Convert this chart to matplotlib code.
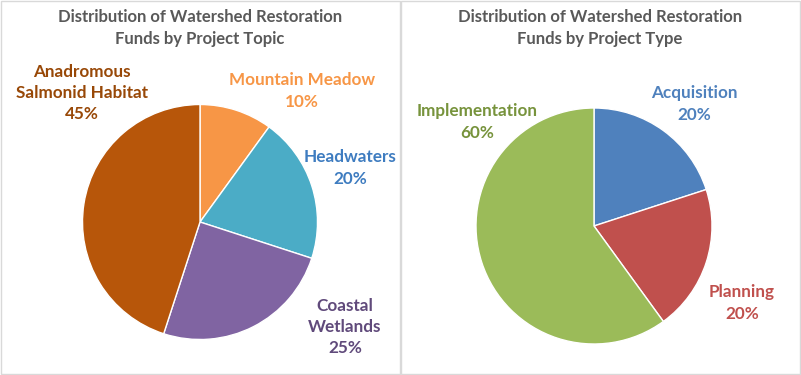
import matplotlib.pyplot as plt
from matplotlib.patches import Rectangle

# data
topic_names = ["Mountain Meadow", "Headwaters", "Coastal\nWetlands", "Anadromous\nSalmonid Habitat"]
topic_pct = [10, 20, 25, 45]
topic_colors = ["#F79646", "#4BACC6", "#8064A2", "#B7560A"]
topic_label_colors = ["#F79646", "#3E7CC0", "#604A7B", "#984807"]

type_names = ["Acquisition", "Planning", "Implementation"]
type_pct = [20, 20, 60]
type_colors = ["#4F81BD", "#C0504D", "#9BBB59"]
type_label_colors = ["#4F81BD", "#C0504D", "#77933C"]

W, H = 801, 375
plt.rcParams['font.family'] = ['Lato', 'DejaVu Sans']

fig = plt.figure(figsize=(W / 100, H / 100), dpi=100)
ax = fig.add_axes([0, 0, 1, 1])

def py(y):
    # pixel row (from top) to data y
    return H - y

def draw_pie(cx, cy, r, vals, colors, names, label_colors, label_pos):
    ax.pie(vals, colors=colors, startangle=90, counterclock=False,
           center=(cx, py(cy)), radius=r,
           wedgeprops=dict(edgecolor="white", linewidth=1))
    for name, v, c, (lx, ly) in zip(names, vals, label_colors, label_pos):
        ax.text(lx, py(ly), f"{name}\n{v}%", color=c, fontsize=12.3, fontweight="bold",
                ha="center", va="center", linespacing=1.4)

draw_pie(200, 222, 117.5, topic_pct, topic_colors, topic_names, topic_label_colors,
         [(302, 91), (350, 168), (345, 327), (82, 93)])
draw_pie(594, 226, 118, type_pct, type_colors, type_names, type_label_colors,
         [(694, 104), (742, 303), (477, 122)])

ax.text(200, py(28), "Distribution of Watershed Restoration\nFunds by Project Topic",
        color="#595959", fontsize=12, fontweight="bold", ha="center", va="center",
        linespacing=1.5)
ax.text(600, py(28), "Distribution of Watershed Restoration\nFunds by Project Type",
        color="#595959", fontsize=12, fontweight="bold", ha="center", va="center",
        linespacing=1.5)

# panel borders
ax.add_patch(Rectangle((0.5, py(373.5)), 399, 373, fill=False, edgecolor="#D9D9D9", lw=1))
ax.add_patch(Rectangle((400.5, py(373.5)), 399, 373, fill=False, edgecolor="#D9D9D9", lw=1))

ax.set_xlim(0, W)
ax.set_ylim(0, H)
ax.set_aspect("auto")
ax.axis("off")

fig.savefig("out.png", dpi=100)
